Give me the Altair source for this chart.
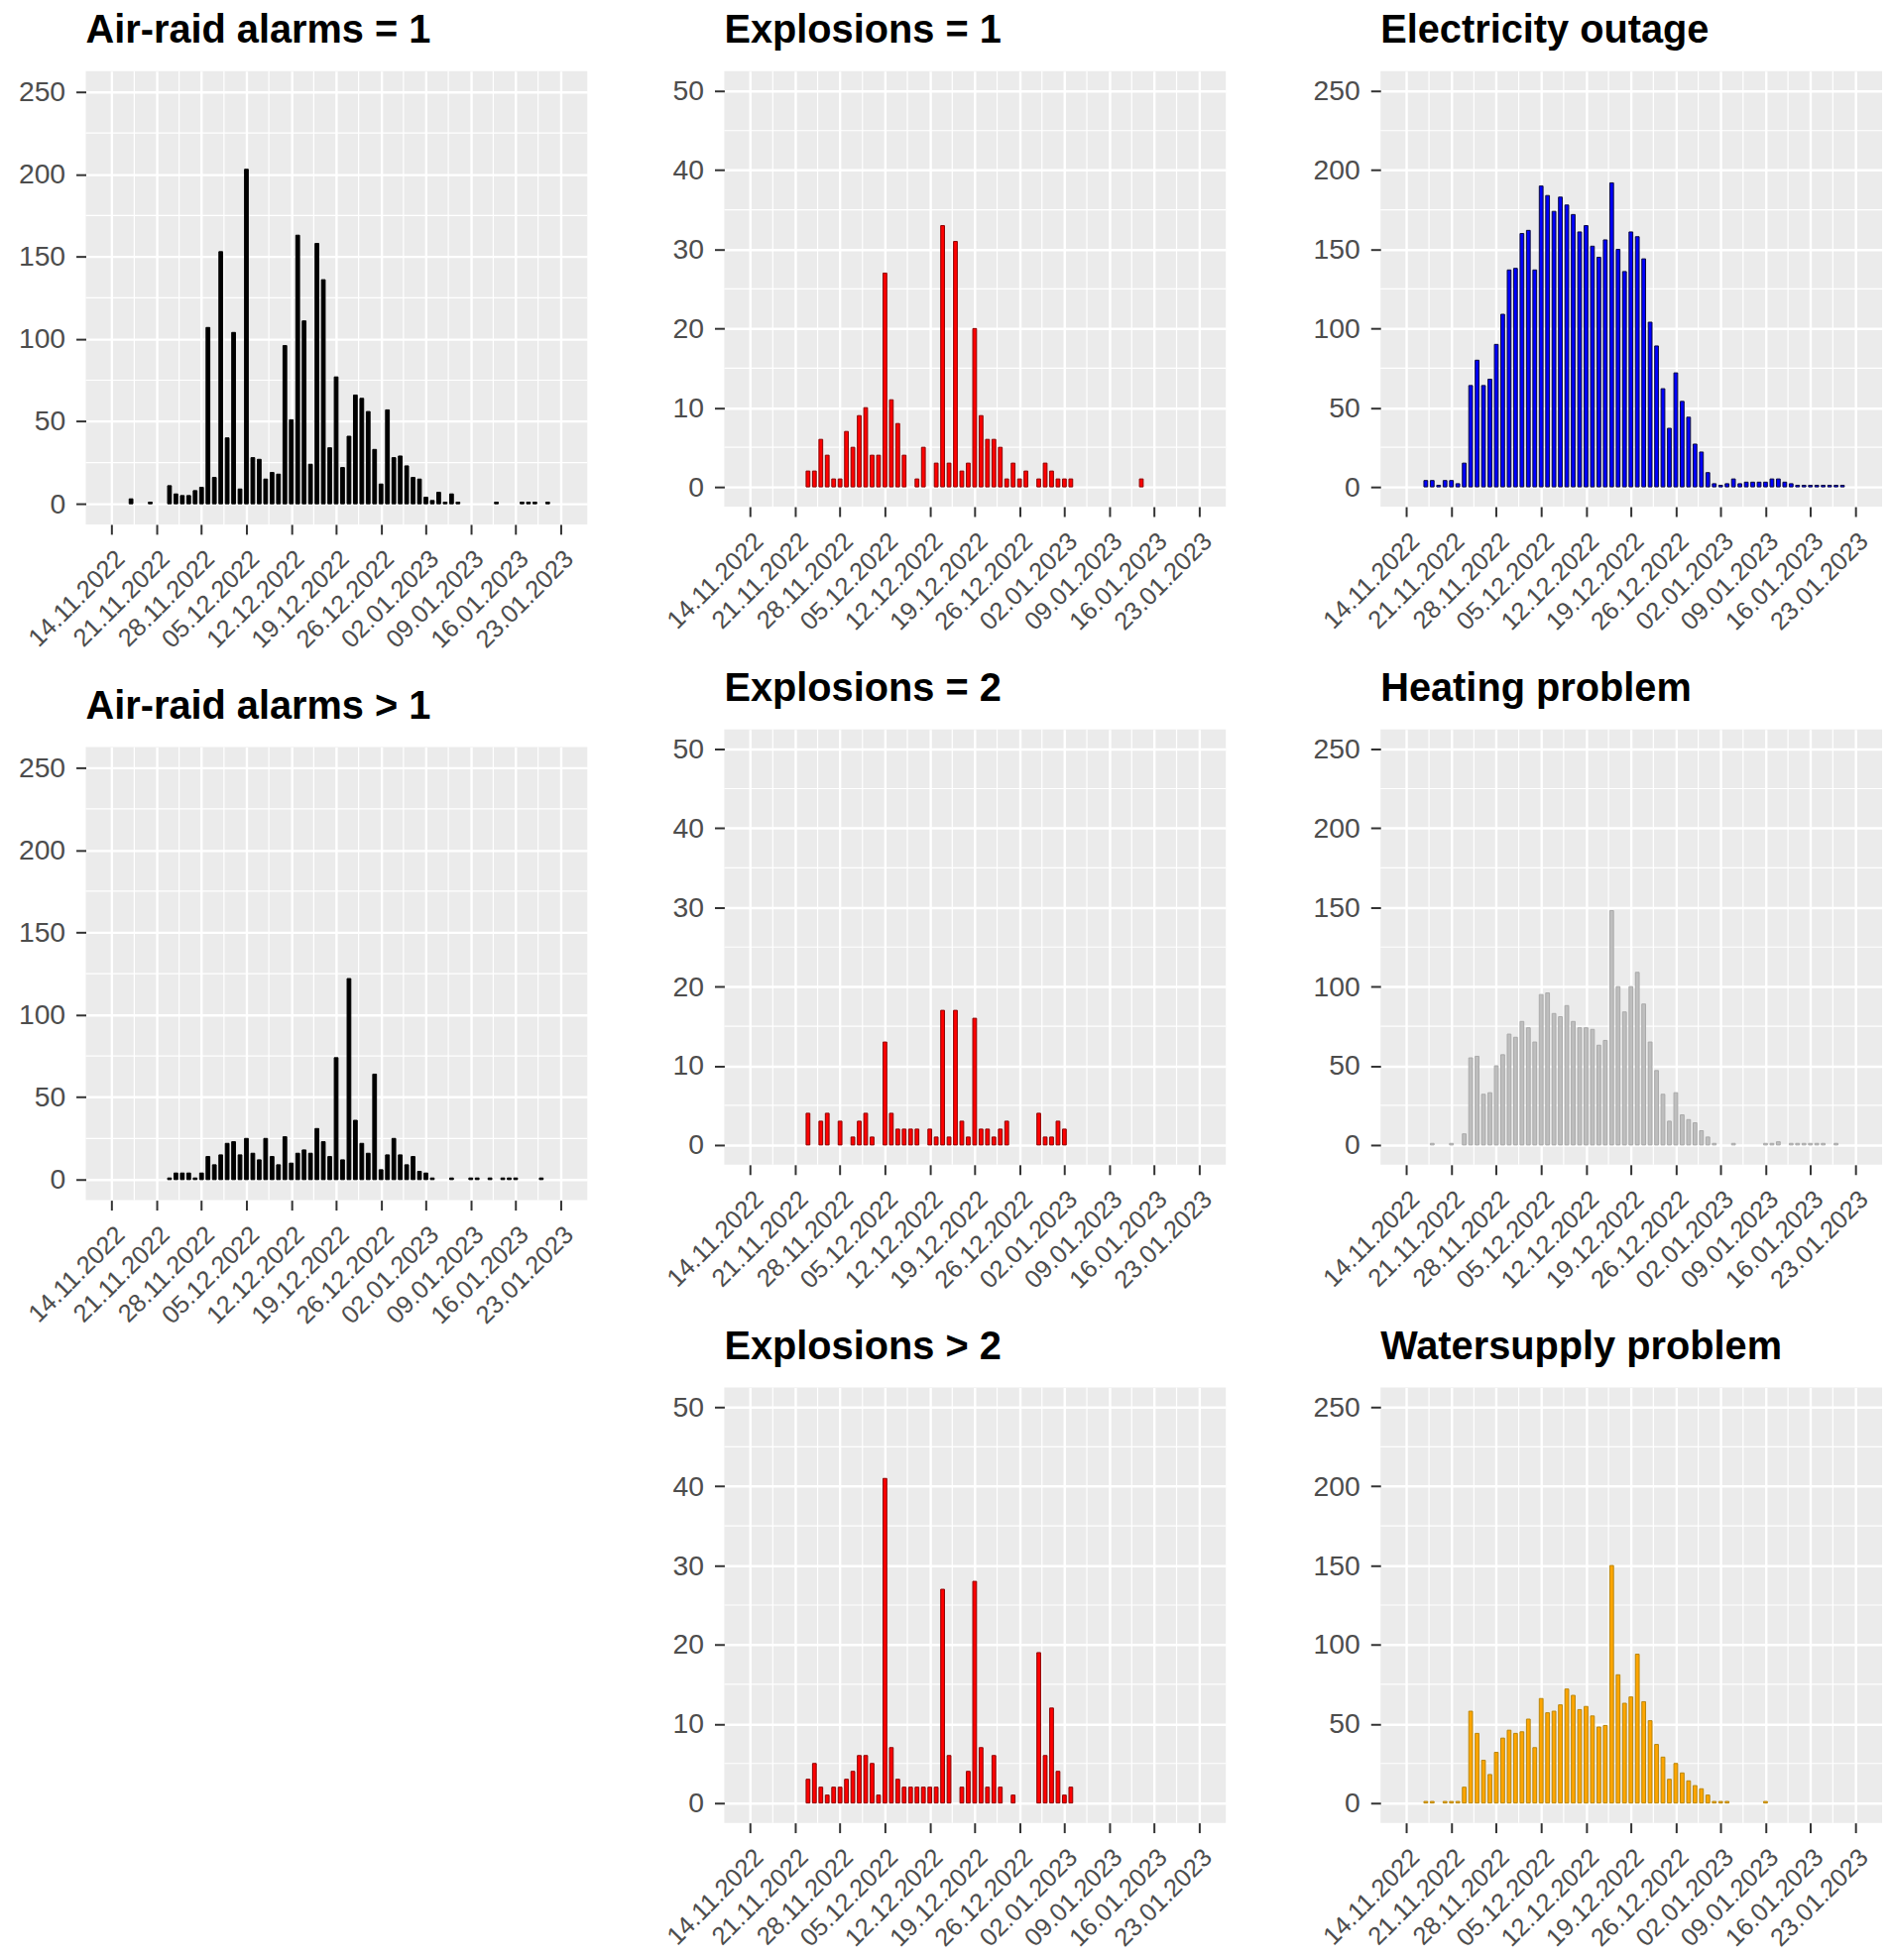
import altair as alt
import pandas as pd

# ---------------- data (daily counts, first bar day = 17.11.2022) ----------------
first_day = "2022-11-17"
n_days = 66  # 17.11.2022 ... 21.01.2023

# rows: 17.11-22.11 | 23.11-30.11 | 01.12-31.12 | 01.01-21.01
air_raid_1 = [3, 0, 0, 1, 0, 0, 11, 6, 5, 5, 8, 10, 107, 16,
              153, 40, 104, 9, 203, 28, 27, 15, 19, 18, 96, 51, 163, 111, 24, 158, 136, 34, 77, 22, 41, 66, 64, 56, 33, 12, 57, 28, 29, 23, 16,
              15, 4, 2, 7, 1, 6, 1, 0, 0, 0, 0, 0, 1, 0, 0, 0, 1, 1, 1, 0, 1]
air_raid_2 = [0, 0, 0, 0, 0, 0, 1, 4, 4, 4, 1, 4, 14, 9,
              15, 22, 23, 15, 25, 16, 12, 25, 14, 9, 26, 10, 16, 18, 16, 31, 23, 14, 74, 12, 122, 36, 22, 16, 64, 6, 15, 25, 15, 9, 14,
              5, 4, 1, 0, 0, 1, 0, 0, 1, 1, 0, 1, 0, 1, 1, 1, 0, 0, 0, 1, 0]
explosions_1 = [0, 0, 0, 0, 0, 0, 2, 2, 6, 4, 1, 1, 7, 5,
                9, 10, 4, 4, 27, 11, 8, 4, 0, 1, 5, 0, 3, 33, 3, 31, 2, 3, 20, 9, 6, 6, 5, 1, 3, 1, 2, 0, 1, 3, 2,
                1, 1, 1, 0, 0, 0, 0, 0, 0, 0, 0, 0, 0, 1, 0, 0, 0, 0, 0, 0, 0]
explosions_2 = [0, 0, 0, 0, 0, 0, 4, 0, 3, 4, 0, 3, 0, 1,
                3, 4, 1, 0, 13, 4, 2, 2, 2, 2, 0, 2, 1, 17, 1, 17, 3, 1, 16, 2, 2, 1, 2, 3, 0, 0, 0, 0, 4, 1, 1,
                3, 2, 0, 0, 0, 0, 0, 0, 0, 0, 0, 0, 0, 0, 0, 0, 0, 0, 0, 0, 0]
explosions_3 = [0, 0, 0, 0, 0, 0, 3, 5, 2, 1, 2, 2, 3, 4,
                6, 6, 5, 1, 41, 7, 3, 2, 2, 2, 2, 2, 2, 27, 6, 0, 2, 4, 28, 7, 2, 6, 2, 0, 1, 0, 0, 0, 19, 6, 12,
                4, 1, 2, 0, 0, 0, 0, 0, 0, 0, 0, 0, 0, 0, 0, 0, 0, 0, 0, 0, 0]
electricity = [4, 4, 1, 4, 4, 2, 15, 64, 80, 64, 68, 90, 109, 137,
               138, 160, 162, 137, 190, 184, 174, 183, 178, 172, 161, 165, 152, 145, 156, 192, 150, 136, 161, 158, 144, 104, 89, 62, 37, 72, 54, 44, 27, 22, 9,
               2, 1, 2, 5, 2, 3, 3, 3, 3, 5, 5, 3, 2, 1, 1, 1, 1, 1, 1, 1, 1]
heating = [0, 1, 0, 0, 1, 0, 7, 55, 56, 32, 33, 50, 57, 70,
           68, 78, 74, 65, 95, 96, 83, 81, 88, 78, 74, 74, 73, 63, 66, 148, 100, 84, 100, 109, 89, 65, 47, 32, 15, 33, 19, 16, 14, 9, 5,
           1, 0, 0, 1, 0, 0, 0, 0, 1, 1, 2, 0, 1, 1, 1, 1, 1, 1, 0, 1, 0]
water = [1, 1, 0, 1, 1, 1, 10, 58, 44, 27, 18, 32, 41, 46,
         44, 45, 53, 35, 66, 57, 58, 62, 72, 68, 59, 61, 55, 48, 49, 150, 81, 63, 67, 94, 64, 52, 37, 29, 15, 25, 19, 14, 11, 9, 5,
         1, 1, 1, 0, 0, 0, 0, 0, 1, 0, 0, 0, 0, 0, 0, 0, 0, 0, 0, 0, 0]

titles = ["Air-raid alarms = 1", "Air-raid alarms > 1", "Explosions = 1", "Explosions = 2",
          "Explosions > 2", "Electricity outage", "Heating problem", "Watersupply problem"]

week_ticks = ["2022-11-14", "2022-11-21", "2022-11-28", "2022-12-05", "2022-12-12", "2022-12-19",
              "2022-12-26", "2023-01-02", "2023-01-09", "2023-01-16", "2023-01-23"]
minor_week = ["2022-11-17T12:00:00", "2022-11-24T12:00:00", "2022-12-01T12:00:00", "2022-12-08T12:00:00",
              "2022-12-15T12:00:00", "2022-12-22T12:00:00", "2022-12-29T12:00:00", "2023-01-05T12:00:00",
              "2023-01-12T12:00:00", "2023-01-19T12:00:00"]
x_limits = ["2022-11-10T17:00:00", "2023-01-26T10:00:00"]

y_major_250 = [0, 50, 100, 150, 200, 250]
y_minor_250 = [25, 75, 125, 175, 225]
y_major_50 = [0, 10, 20, 30, 40, 50]
y_minor_50 = [5, 15, 25, 35, 45]

# ---------------- helpers ----------------
days = [d.strftime("%Y-%m-%dT00:00:00") for d in pd.date_range(first_day, periods=n_days, freq="D")]


def dt(s):
    d = pd.Timestamp(s)
    return alt.DateTime(year=d.year, month=d.month, date=d.day, hours=d.hour, minutes=d.minute)


FONT = "Liberation Sans"
GRID_MAJOR = 2.4
GRID_MINOR = 1.2

x_scale = alt.Scale(domain=[dt(s) for s in x_limits])
x_axis = alt.Axis(values=[dt(s) for s in week_ticks], format="%d.%m.%Y", labelAngle=-45,
                  labelAlign="right", labelBaseline="top", labelFontSize=25.5, labelFont=FONT,
                  labelColor="#4D4D4D", labelPadding=12, labelOverlap=False, labelFlush=False,
                  tickSize=10, tickWidth=2, tickColor="#333333", grid=True, gridColor="white",
                  gridWidth=GRID_MAJOR, domain=False, title=None)


def panel(title, values, fill, stroke, big, w, h):
    ymax = 250 if big else 50
    pad = ymax * 0.05
    y_scale = alt.Scale(domain=[-pad, ymax + pad], nice=False, zero=False)
    y_axis = alt.Axis(values=y_major_250 if big else y_major_50, labelFontSize=28.5, labelFont=FONT,
                      labelColor="#4D4D4D", labelPadding=11, tickSize=10, tickWidth=2,
                      tickColor="#333333", grid=True, gridColor="white", gridWidth=GRID_MAJOR,
                      domain=False, title=None)
    df = pd.DataFrame({"date": days, "count": values})
    df = df[df["count"] > 0]

    hminor = alt.Chart(pd.DataFrame({"v": y_minor_250 if big else y_minor_50})).mark_rule(
        color="white", strokeWidth=GRID_MINOR).encode(y=alt.Y("v:Q", scale=y_scale, axis=y_axis))
    vminor = alt.Chart(pd.DataFrame({"t": minor_week})).mark_rule(
        color="white", strokeWidth=GRID_MINOR).encode(x=alt.X("t:T", scale=x_scale, axis=x_axis))
    bars = alt.Chart(df).mark_bar(size=3.8, fill=fill, stroke=stroke, strokeWidth=1).encode(
        x=alt.X("date:T", scale=x_scale, axis=x_axis),
        y=alt.Y("count:Q", scale=y_scale, axis=y_axis),
        y2=alt.datum(0),
    )
    return alt.layer(hminor, vminor, bars).properties(
        width=w, height=h,
        title=alt.TitleParams(title, anchor="start", frame="group", fontSize=40, fontWeight="bold",
                              font=FONT, color="black", offset=20),
    )


W = 509
HL = 460
HM = 442
p1 = panel(titles[0], air_raid_1, "black", "black", True, W, HL)
p4 = panel(titles[1], air_raid_2, "black", "black", True, W, HL)
p2 = panel(titles[2], explosions_1, "#FF0000", "#8B0000", False, W, HM)
p5 = panel(titles[3], explosions_2, "#FF0000", "#8B0000", False, W, HM)
p7 = panel(titles[4], explosions_3, "#FF0000", "#8B0000", False, W, HM)
p3 = panel(titles[5], electricity, "#0000FF", "#0A0A3C", True, W, HM)
p6 = panel(titles[6], heating, "#BEBEBE", "#A9A9A9", True, W, HM)
p8 = panel(titles[7], water, "#FFA500", "#B8860B", True, W, HM)

left = alt.vconcat(p1, p4, spacing=226, bounds="flush")
mid = alt.vconcat(p2, p5, p7, spacing=226, bounds="flush")
right = alt.vconcat(p3, p6, p8, spacing=226, bounds="flush")
inner = alt.hconcat(mid, right, spacing=87)

chart = alt.hconcat(left, inner, spacing=75).properties(
    padding={"left": 10, "top": -3, "right": 0, "bottom": 2}, background="white"
).configure_view(fill="#EBEBEB", strokeWidth=0)

chart.save("out.html", embed_options={"renderer": "svg", "actions": False})
